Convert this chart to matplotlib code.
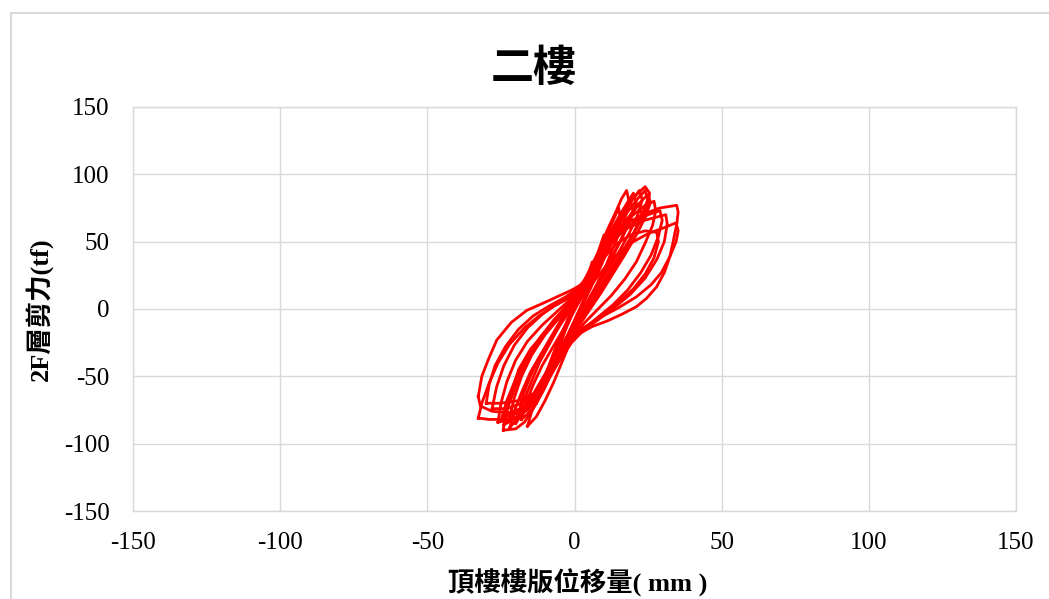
import matplotlib
matplotlib.use("Agg")
import matplotlib.pyplot as plt
from matplotlib.lines import Line2D

plt.rcParams["font.family"] = ["Liberation Serif", "Noto Sans CJK TC", "DejaVu Sans"]
plt.rcParams["axes.unicode_minus"] = False  # 負號用 "-"

# 遲滯迴圈資料 (位移 mm, 層剪力 tf)
loop_disp = [
    # W1
    [-32.7, -31.5, -29, -26.4, -21.5, -16.2, -11, -6, -1, 3, 7, 11, 15, 19, 24, 29, 34.7,
     35.2, 34.8, 33.5, 32.4, 30.5, 27.9, 24.5, 21, 16, 11, 6, 1.9, -2.7, -6, -9, -12, -16, -22, -28, -32, -32.7],
    # W2
    [-32.7, -31.5, -29, -26, -22, -17, -12, -7, -2, 2, 6, 10, 14, 19, 24, 27.9,
     28.5, 27, 24, 20, 15, 9, 4, -1, -4, -7, -11, -15, -19, -24, -29, -32.7],
    # W3
    [-24.2, -23.5, -21.5, -19, -15, -10, -5, 0, 5, 10, 15, 20, 25, 30, 34.5,
     35.2, 34.5, 32.4, 29.5, 26, 21, 15, 9, 3, -2, -5, -8, -11, -14, -17, -20, -24.2],
    # W4
    [-24.6, -23, -20, -16, -12, -7, -2, 3, 7, 11, 15, 19, 22, 24,
     25.5, 25, 23, 20, 16, 12, 8, 4, 0, -4, -8, -12, -16, -20, -24.6],
    # M1
    [-28, -26.5, -24, -20.5, -16, -11, -6, -1, 3, 7, 11, 15, 20, 25, 29,
     29.8, 28.5, 26, 22.5, 18, 13, 8, 3, -1, -5, -9, -13, -18, -23, -28],
    # M2
    [-30, -29, -27, -23.5, -19, -14, -8, -3, 1, 5, 9, 13, 18, 24, 31,
     31.5, 30.5, 28, 24, 19, 13.5, 8, 3, -1, -5, -9, -13, -19, -25, -30],
    # M3
    [-26, -25, -23, -20, -16, -11, -6, -1, 3, 7, 11, 15, 20, 24, 27,
     27.6, 26.5, 24, 21, 17, 12.5, 8, 3.5, -0.5, -4, -8, -12, -16, -21, -26],
    # I1
    [-16, -14, -11, -8, -5, -2, 1, 4, 8, 11, 14, 16, 17.7,
     18.5, 17, 14, 11, 8, 5, 2, -1, -4, -7, -10, -13, -16],
    # I2
    [-20, -18, -15, -12, -8, -4, 0, 4, 8, 12, 16, 18.5, 20,
     21, 19, 16, 12, 8, 4, 0, -4, -8, -12, -16, -20],
    # I3
    [-22, -20.5, -18, -15, -11, -7, -3, 1, 5, 9, 13, 17, 20, 22,
     23, 21.5, 18.5, 15, 11, 7, 3, -1, -5, -9, -13, -17, -20, -22],
    # I4
    [-13, -11.5, -9, -6, -3, 0, 3, 6, 9, 12, 14, 15,
     15.5, 14, 11.5, 9, 6, 3, 0, -3, -6, -9, -11.5, -13],
    # I5
    [-9, -7.5, -5.5, -3, 0, 3, 5.5, 8, 10,
     10.5, 9, 6.5, 4, 1, -2, -4.5, -7, -9],
    # I6
    [-6, -4.5, -2.5, 0, 2.5, 4.5, 6,
     6.3, 5, 3, 0.5, -2, -4, -6],
    # I7
    [-18, -16.5, -14, -11, -7, -3, 1, 5, 9, 13, 17, 21, 23.5, 25,
     25.8, 24, 21, 17, 13, 9, 5, 1, -3, -7, -10, -13, -16, -18],
    # I8
    [-22, -20.5, -18, -14.5, -10, -5, 0, 4, 8, 12, 16, 19.5, 22,
     22.8, 21, 18, 14, 10, 6, 2, -2, -6, -10, -14, -18, -22],
    # I9
    [-19, -17.5, -15, -12, -8, -4, 0, 4, 8, 12, 15.5, 18, 19,
     19.8, 18, 15, 11.5, 8, 4.5, 1, -3, -7, -11, -14.5, -17.5, -19],
    # I10
    [-24, -22.5, -20, -17, -13, -8, -3, 2, 6, 10, 14, 18, 21.5, 24,
     24.8, 23, 20, 16.5, 12.5, 8.5, 4.5, 0, -4, -8, -12, -16, -20, -24],
    # I11
    [-11, -9.5, -7.5, -5, -2, 1, 4, 7, 10, 12,
     12.5, 11, 8.5, 6, 3, 0, -3, -6, -8.5, -11],
]

loop_shear = [
    # W1
    [-65, -50, -36, -23, -10, -1, 4, 9, 14, 19, 30, 44, 56, 65, 71, 75, 77,
     72, 64, 50, 39, 27, 16.5, 8, 1.7, -4, -9, -13, -18, -25, -38, -52, -63, -72, -77, -76, -72, -65],
    # W2
    [-81, -70, -55, -40, -26, -14, -5, 2, 8, 13, 24, 38, 48, 55, 58, 57,
     50, 38, 26, 15, 5, -5, -13, -22, -32, -45, -60, -72, -80, -82, -82, -81],
    # W3
    [-90, -78, -62, -45, -30, -17, -6, 4, 16, 30, 42, 50, 56, 60, 64,
     58, 50, 39, 27, 18, 9, 1, -6, -14, -22, -33, -48, -62, -74, -84, -89, -90],
    # W4
    [-80, -68, -52, -36, -22, -8, 4, 18, 34, 52, 68, 80, 87, 90.8,
     86, 78, 68, 56, 42, 28, 14, 0, -12, -26, -42, -58, -70, -78, -80],
    # M1
    [-74, -58, -42, -27, -14, -4, 4, 11, 19, 32, 45, 56, 64, 70, 73,
     66, 54, 40, 27, 14, 3, -6, -15, -24, -37, -51, -62, -70, -74, -74],
    # M2
    [-70, -56, -42, -28, -15, -5, 3, 9, 15, 26, 39, 51, 60, 66, 70,
     63, 50, 37, 23, 11, 1, -8, -16, -25, -38, -52, -62, -68, -70, -70],
    # M3
    [-84, -70, -54, -38, -24, -12, -2, 8, 18, 32, 47, 60, 70, 77, 80,
     73, 62, 49, 35, 22, 10, 0, -10, -20, -33, -49, -64, -75, -82, -84],
    # I1
    [-87, -72, -55, -38, -22, -6, 8, 24, 42, 58, 72, 82, 88,
     80, 66, 50, 34, 20, 6, -8, -22, -38, -54, -68, -80, -87],
    # I2
    [-85, -72, -56, -40, -24, -8, 8, 24, 40, 56, 72, 81, 86,
     79, 66, 52, 36, 20, 4, -10, -26, -42, -58, -72, -85],
    # I3
    [-88, -76, -62, -47, -32, -17, -2, 12, 27, 43, 58, 72, 82, 88,
     81, 70, 56, 42, 28, 14, -1, -15, -30, -46, -61, -74, -83, -88],
    # I4
    [-70, -58, -44, -30, -15, 0, 15, 32, 46, 60, 70, 75,
     68, 58, 45, 32, 18, 4, -10, -24, -38, -52, -63, -70],
    # I5
    [-50, -40, -28, -14, 0, 14, 28, 42, 55,
     48, 38, 25, 11, -4, -18, -30, -41, -50],
    # I6
    [-35, -24, -12, 0, 12, 24, 35,
     28, 18, 6, -6, -18, -28, -35],
    # I7
    [-82, -70, -56, -42, -27, -12, 3, 18, 34, 50, 64, 76, 82, 85,
     79, 68, 55, 40, 26, 12, -1, -14, -28, -44, -58, -70, -78, -82],
    # I8
    [-80, -66, -50, -34, -19, -6, 6, 18, 33, 47, 60, 71, 78,
     71, 60, 47, 33, 19, 6, -6, -19, -34, -50, -64, -74, -80],
    # I9
    [-78, -64, -50, -36, -22, -9, 4, 18, 34, 50, 64, 75, 80,
     73, 62, 48, 33, 19, 5, -8, -22, -37, -52, -65, -74, -78],
    # I10
    [-86, -72, -57, -42, -27, -13, 0, 13, 28, 44, 59, 72, 82, 88,
     81, 70, 56, 41, 26, 12, -1, -14, -28, -44, -60, -72, -81, -86],
    # I11
    [-60, -48, -35, -21, -7, 7, 22, 36, 50, 62,
     55, 45, 32, 19, 5, -9, -23, -37, -49, -60],
]

ticks = [-150, -100, -50, 0, 50, 100, 150]
grid_color = "#D9D9D9"

fig = plt.figure(figsize=(10.49, 5.99), dpi=100)
ax = fig.add_axes([0.1268, 0.1469, 0.8418, 0.6745])

for xs, ys in zip(loop_disp, loop_shear):
    ax.plot(xs, ys, color="#FF0000", linewidth=2.0, solid_joinstyle="round", zorder=3)

ax.set_xlim(-150, 150)
ax.set_ylim(-150, 150)
ax.set_xticks(ticks)
ax.set_yticks(ticks)
ax.grid(True, color=grid_color, linewidth=1)
ax.set_axisbelow(True)
for s in ax.spines.values():
    s.set_color(grid_color)
    s.set_linewidth(1)
ax.tick_params(length=0, labelsize=18, colors="black")
ax.tick_params(axis="y", pad=17)
ax.tick_params(axis="x", pad=15)

# 外框
fig.add_artist(Line2D([0.0105, 0.0105], [0, 0.978], color=grid_color, linewidth=1.5))
fig.add_artist(Line2D([0.0105, 1.0], [0.978, 0.978], color=grid_color, linewidth=1.5))

fig.text(0.509, 0.887, "二樓", ha="center", va="center", fontsize=31,
         fontweight="bold", family=["Noto Sans CJK TC"])
fig.text(0.551, 0.027, "頂樓樓版位移量( mm )", ha="center", va="center", fontsize=19,
         fontweight="bold")
fig.text(0.037, 0.483, "2F層剪力(tf)", ha="center", va="center", fontsize=19,
         fontweight="bold", rotation=90)

fig.savefig("out.png", dpi=100)
